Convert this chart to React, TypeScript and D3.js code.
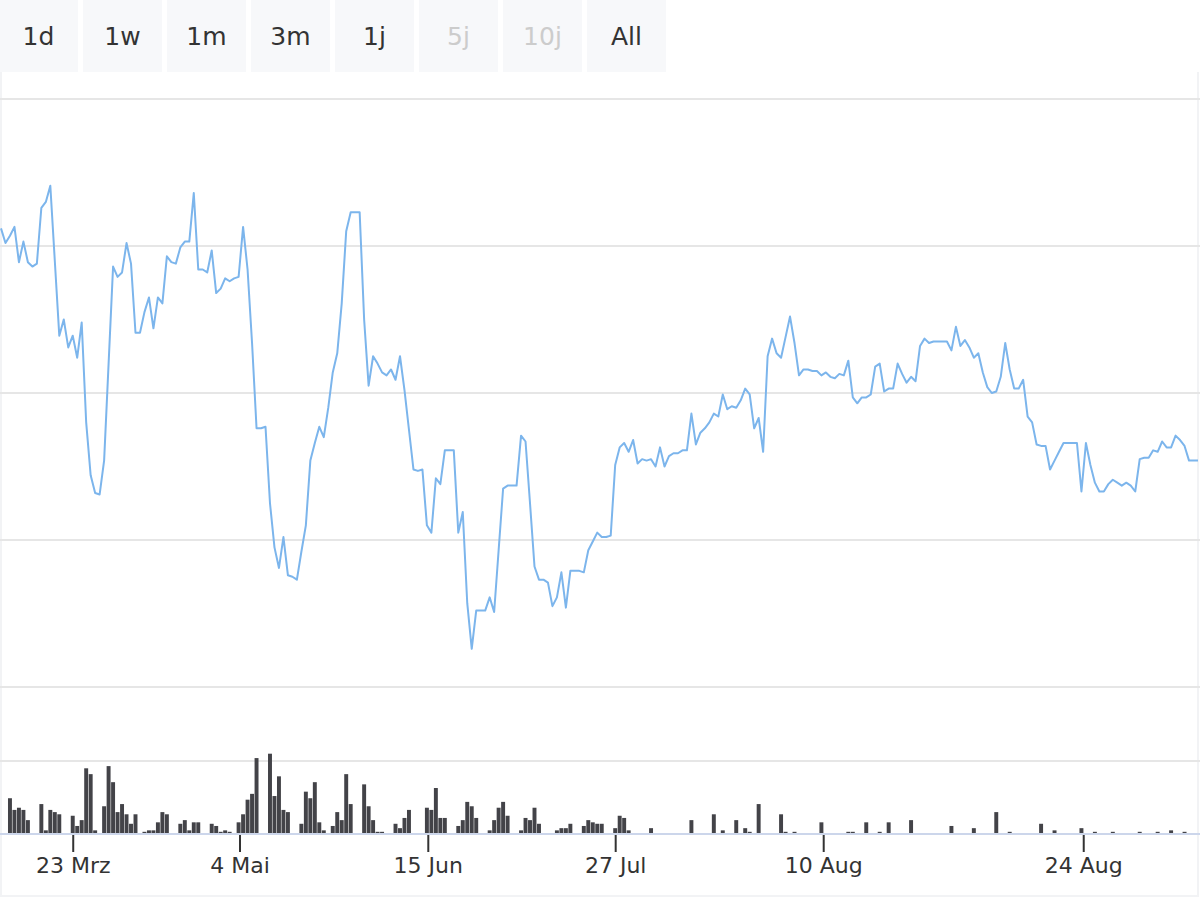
import * as d3 from "d3"
import { useEffect, useRef } from "react"

const WIDTH = 1200
const HEIGHT = 900
const LINE_COLOR = "#7cb5ec"
const VOLUME_COLOR = "#434348"
const FONT = "'DejaVu Sans', sans-serif"

// range selector buttons
const buttonLabels = ["1d", "1w", "1m", "3m", "1j", "5j", "10j", "All"]
const buttonDisabled = [false, false, false, false, false, true, true, false]

// x axis ticks (ordinal axis, positions given as point index)
const tickLabels = ["23 Mrz", "4 Mai", "15 Jun", "27 Jul", "10 Aug", "24 Aug"]
const tickIndex = [16, 53.2, 95.2, 137, 183.4, 241.4]

// price grid and volume grid
const priceTicks = [20, 30, 40, 50, 60]
const volumeTicks = [100]

// closing prices, one per point
const prices = [
  51.2, 50.2, 50.7, 51.3, 48.9, 50.3, 48.9, 48.6, 48.8, 52.6,
  53.0, 54.1, 49.0, 43.9, 45.0, 43.1, 43.9, 42.4, 44.8, 38.0,
  34.4, 33.2, 33.1, 35.4, 42.0, 48.6, 47.9, 48.2, 50.2, 48.8,
  44.1, 44.1, 45.5, 46.5, 44.4, 46.5, 46.1, 49.3, 48.9, 48.8,
  49.9, 50.3, 50.3, 53.6, 48.4, 48.4, 48.2, 49.7, 46.8, 47.1,
  47.8, 47.6, 47.8, 47.9, 51.3, 48.4, 43.4, 37.6, 37.6, 37.7,
  32.5, 29.5, 28.1, 30.2, 27.6, 27.5, 27.3, 29.2, 31.0, 35.4,
  36.6, 37.7, 37.0, 39.0, 41.4, 42.7, 46.1, 51.0, 52.3, 52.3,
  52.3, 45.0, 40.5, 42.5, 42.0, 41.4, 41.2, 41.6, 40.9, 42.5,
  40.2, 37.5, 34.8, 34.7, 34.8, 31.0, 30.5, 34.2, 33.8, 36.1,
  36.1, 36.1, 30.5, 31.9, 25.7, 22.6, 25.2, 25.2, 25.2, 26.1,
  25.1, 29.3, 33.5, 33.7, 33.7, 33.7, 37.1, 36.7, 32.5, 28.2,
  27.3, 27.3, 27.1, 25.5, 26.1, 27.8, 25.4, 27.9, 27.9, 27.9,
  27.8, 29.3, 29.9, 30.5, 30.2, 30.2, 30.3, 35.1, 36.3, 36.6,
  36.0, 36.8, 35.2, 35.5, 35.4, 35.5, 35.0, 36.3, 35.0, 35.7,
  35.9, 35.9, 36.1, 36.1, 38.6, 36.5, 37.3, 37.6, 38.0, 38.6,
  38.4, 39.9, 38.9, 39.1, 39.0, 39.5, 40.3, 39.9, 37.6, 38.3,
  36.0, 42.5, 43.7, 42.7, 42.4, 43.8, 45.2, 43.4, 41.2, 41.6,
  41.6, 41.5, 41.5, 41.2, 41.4, 41.1, 41.0, 41.3, 41.2, 42.2,
  39.7, 39.3, 39.7, 39.7, 39.9, 41.8, 42.0, 40.1, 40.3, 40.3,
  42.0, 41.3, 40.7, 41.1, 40.8, 43.2, 43.7, 43.4, 43.5, 43.5,
  43.5, 43.5, 42.9, 44.5, 43.2, 43.6, 43.1, 42.4, 42.7, 41.4,
  40.4, 40.0, 40.1, 41.1, 43.4, 41.6, 40.3, 40.3, 40.9, 38.4,
  38.0, 36.5, 36.4, 36.4, 34.8, 35.4, 36.0, 36.6, 36.6, 36.6,
  36.6, 33.3, 36.6, 35.1, 33.9, 33.3, 33.3, 33.8, 34.1, 33.9,
  33.7, 33.9, 33.7, 33.3, 35.5, 35.6, 35.6, 36.1, 36.0, 36.7,
  36.3, 36.3, 37.1, 36.8, 36.4, 35.4, 35.4, 35.4,
]

// traded volume, one per point
const volumes = [
  0, 0, 49, 33, 36, 33, 19, 0, 0, 41,
  5, 33, 30, 27, 0, 0, 25, 11, 19, 90,
  82, 5, 0, 38, 93, 71, 30, 41, 27, 14,
  27, 0, 3, 5, 5, 16, 30, 27, 0, 0,
  14, 19, 5, 16, 16, 0, 0, 14, 11, 3,
  5, 3, 0, 16, 27, 47, 55, 104, 0, 0,
  110, 52, 79, 33, 30, 0, 0, 14, 58, 49,
  71, 16, 5, 0, 11, 30, 19, 82, 41, 0,
  0, 68, 38, 19, 3, 3, 0, 0, 14, 8,
  22, 33, 0, 0, 0, 36, 33, 63, 22, 22,
  0, 0, 11, 19, 44, 38, 22, 0, 0, 5,
  19, 36, 44, 25, 0, 0, 5, 22, 19, 36,
  14, 0, 0, 0, 5, 8, 8, 14, 0, 0,
  11, 19, 16, 14, 14, 0, 0, 8, 25, 22,
  5, 0, 0, 0, 0, 8, 0, 0, 0, 0,
  0, 0, 0, 0, 19, 0, 0, 0, 0, 27,
  0, 5, 0, 0, 19, 0, 8, 3, 0, 41,
  0, 0, 0, 0, 27, 3, 0, 3, 0, 0,
  0, 0, 0, 16, 0, 0, 0, 0, 0, 3,
  3, 0, 0, 16, 0, 0, 3, 0, 16, 0,
  0, 0, 0, 19, 0, 0, 0, 0, 0, 0,
  0, 0, 11, 0, 0, 0, 0, 8, 0, 0,
  0, 0, 30, 0, 0, 3, 0, 0, 0, 0,
  0, 0, 14, 0, 0, 5, 0, 0, 0, 0,
  0, 8, 0, 0, 3, 0, 0, 0, 3, 0,
  0, 0, 0, 0, 3, 0, 0, 0, 3, 0,
  0, 5, 0, 0, 3, 0, 0, 0,
]

export default function App() {
  const svgRef = useRef<SVGSVGElement | null>(null)

  useEffect(() => {
    if (!svgRef.current) return
    const svg = d3.select(svgRef.current)
    svg.selectAll("*").remove()

    // Range selector
    const btnW = 79
    const btnStep = 84
    const btns = svg
      .append("g")
      .selectAll("g")
      .data(buttonLabels)
      .enter()
      .append("g")
      .attr("transform", (_d, i) => `translate(${i * btnStep - 1},0)`)
    btns.append("rect").attr("width", btnW).attr("height", 72).attr("fill", "#f7f8fa")
    btns
      .append("text")
      .attr("x", btnW / 2)
      .attr("y", 45)
      .attr("text-anchor", "middle")
      .style("font-family", FONT)
      .style("font-size", "25px")
      .style("fill", (_d, i) => (buttonDisabled[i] ? "#cccccc" : "#333333"))
      .text((d) => d)

    // Chart frame (left, right, bottom only)
    svg
      .append("path")
      .attr("d", "M1,72 V896 H1198 V72")
      .attr("fill", "none")
      .attr("stroke", "#f2f3f5")
      .attr("stroke-width", 2)

    const x = d3.scaleLinear().domain([0, prices.length - 1]).range([1, 1198])
    const y = d3.scaleLinear().domain([20, 60]).range([687, 99])
    const yVol = d3.scaleLinear().domain([0, 100]).range([834, 761])

    // Grid lines
    svg
      .append("g")
      .selectAll("line")
      .data(priceTicks)
      .enter()
      .append("line")
      .attr("x1", 0)
      .attr("x2", WIDTH)
      .attr("y1", (d) => y(d))
      .attr("y2", (d) => y(d))
      .attr("stroke", "#e6e6e6")
      .attr("stroke-width", 2)

    svg
      .append("g")
      .selectAll("line")
      .data(volumeTicks)
      .enter()
      .append("line")
      .attr("x1", 0)
      .attr("x2", WIDTH)
      .attr("y1", (d) => yVol(d))
      .attr("y2", (d) => yVol(d))
      .attr("stroke", "#e6e6e6")
      .attr("stroke-width", 2)

    // Volume bars
    const step = x(1) - x(0)
    const barW = step * 0.88
    svg
      .append("g")
      .selectAll("rect")
      .data(volumes.map((v, i) => [i, v]).filter((d) => d[1] > 0))
      .enter()
      .append("rect")
      .attr("x", (d) => x(d[0]) - barW / 2)
      .attr("width", barW)
      .attr("y", (d) => yVol(d[1]))
      .attr("height", (d) => yVol(0) - yVol(d[1]))
      .attr("fill", VOLUME_COLOR)

    // Price line
    const line = d3
      .line<number>()
      .x((_d, i) => x(i))
      .y((d) => y(d))
    svg
      .append("path")
      .datum(prices)
      .attr("d", line)
      .attr("fill", "none")
      .attr("stroke", LINE_COLOR)
      .attr("stroke-width", 2)
      .attr("stroke-linejoin", "round")

    // X axis
    const axis = svg
      .append("g")
      .attr("transform", `translate(0,${yVol(0)})`)
      .call(
        d3
          .axisBottom(x)
          .tickValues(tickIndex)
          .tickFormat((_d, i) => tickLabels[i])
          .tickSize(18)
          .tickPadding(5),
      )
    axis.select(".domain").remove()
    axis.selectAll(".tick line").attr("stroke", "#333333").attr("stroke-width", 2)
    axis
      .selectAll(".tick text")
      .style("font-family", FONT)
      .style("font-size", "22px")
      .style("fill", "#333333")

    svg
      .append("line")
      .attr("x1", 0)
      .attr("x2", WIDTH)
      .attr("y1", yVol(0))
      .attr("y2", yVol(0))
      .attr("stroke", "#ccd6eb")
      .attr("stroke-width", 2)
  }, [])

  return (
    <svg
      ref={svgRef}
      width={WIDTH}
      height={HEIGHT}
      style={{ position: "absolute", left: 0, top: 0, background: "#ffffff" }}
      xmlns="http://www.w3.org/2000/svg"
    />
  )
}
